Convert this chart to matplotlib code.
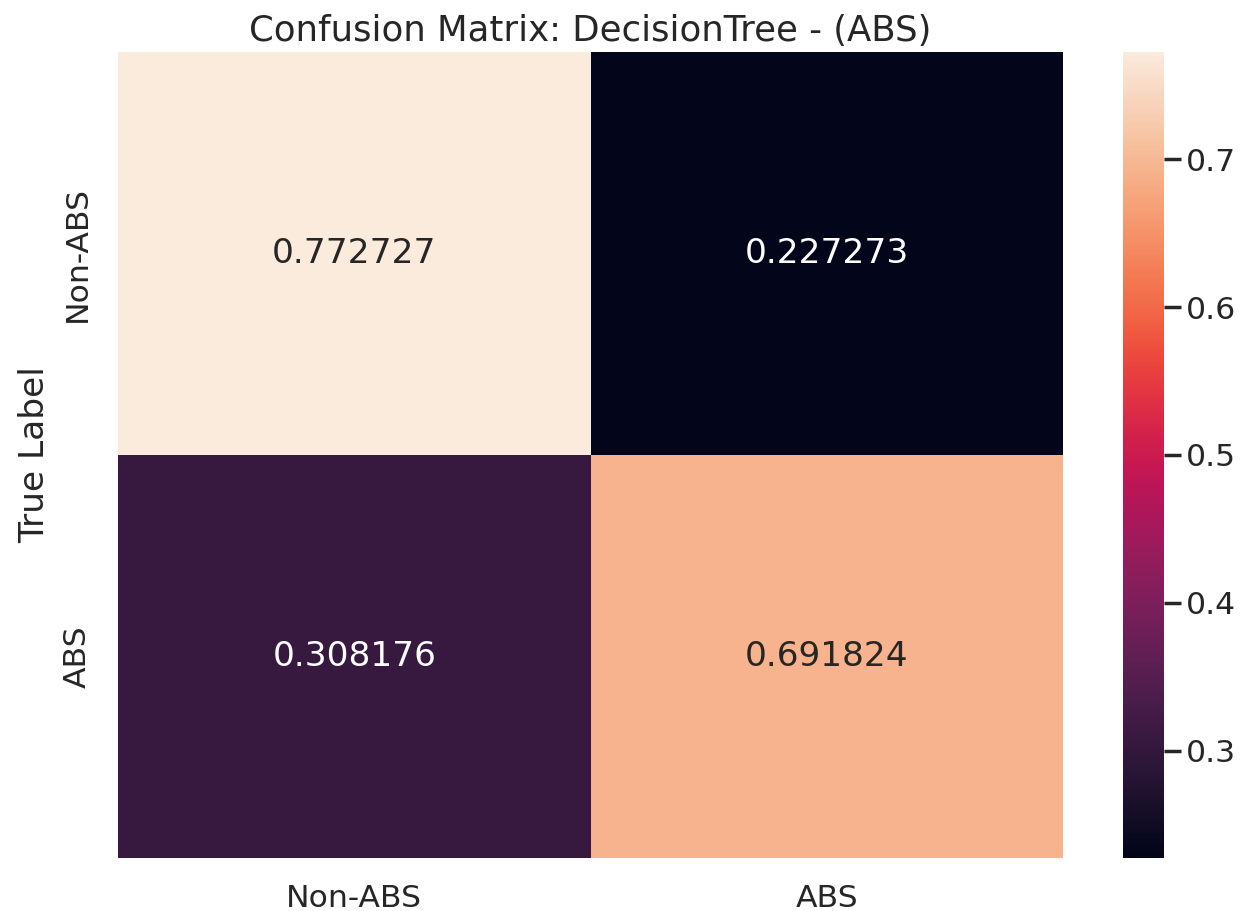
import numpy as np
import matplotlib
matplotlib.use("Agg")
import matplotlib.pyplot as plt
import seaborn as sns

# normalized confusion matrix (rows = true class)
class_names = ["Non-ABS", "ABS"]
row_non_abs = [0.772727, 0.227273]
row_abs = [0.308176, 0.691824]
model_name = "DecisionTree"

cm = np.array([row_non_abs, row_abs])

sns.set_theme(font_scale=1.03)

fig = plt.figure(figsize=(6.25, 4.555), dpi=200)
ax = fig.add_axes([0.0944, 0.0582, 0.756, 0.8847])
cax = fig.add_axes([0.8984, 0.0582, 0.0328, 0.8847])

sns.heatmap(cm, annot=True, fmt="g", xticklabels=class_names,
            yticklabels=class_names, ax=ax, cbar_ax=cax)

ax.set_title(f"Confusion Matrix: {model_name} - (ABS)", fontsize=12.8, pad=4)
ax.set_ylabel("True Label")
cax.tick_params(pad=2)

fig.savefig("out.png", dpi=200)
